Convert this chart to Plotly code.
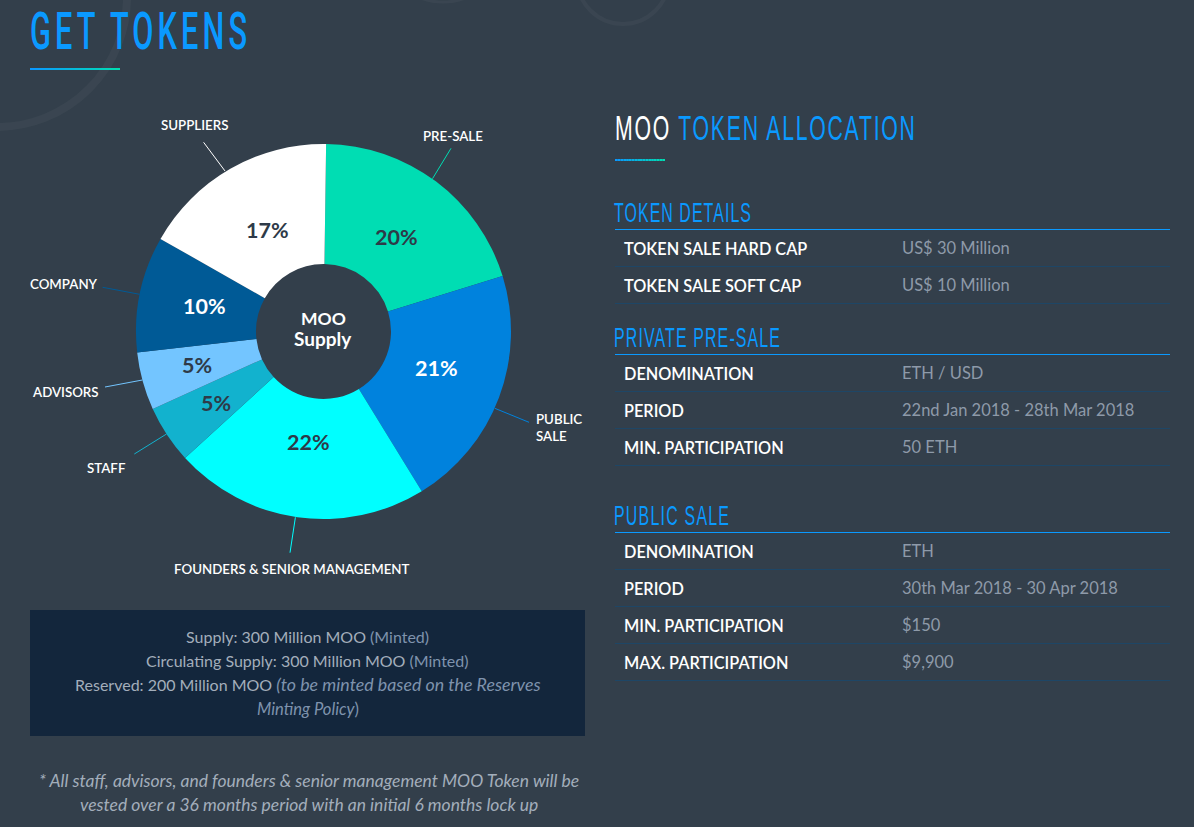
import json
import plotly.graph_objects as go

W, H = 1194, 827
BG = "#333F4B"
BLUE = "#0A99FF"
HEAD = "Liberation Sans"
BODY = "Lato"
PAD = 2.5

categories = ["PRE-SALE", "PUBLIC SALE", "FOUNDERS & SENIOR MANAGEMENT", "STAFF", "ADVISORS", "COMPANY", "SUPPLIERS"]
values = [20, 21, 22, 5, 5, 10, 17]
slice_colors = ["#00DDB3", "#0082DD", "#00FFFF", "#12B2CE", "#73C5FF", "#005A96", "#FFFFFF"]
pct_colors = ["#2E3A48", "#FFFFFF", "#2E3A48", "#2E3A48", "#2E3A48", "#FFFFFF", "#2E3A48"]
pct_xy = [(396.5, 237), (436.5, 368), (308.5, 442), (216, 403), (197, 365), (204, 306), (267.5, 230)]

outer_labels = ["PRE-SALE", "PUBLIC<br>SALE", "FOUNDERS & SENIOR MANAGEMENT", "STAFF", "ADVISORS", "COMPANY", "SUPPLIERS"]
outer_label_xy = [(453, 136), (536, 427), (291.5, 569), (106, 468), (65, 392), (64, 284), (194.5, 125)]
leaders = [(451, 148.3, 432.5, 178.7), (529, 422.3, 494.8, 408.3), (290, 552.7, 295.4, 517.3),
           (134.3, 454, 166.5, 434), (105, 387, 142.4, 380), (102.6, 287.3, 139.7, 294.3), (203.6, 142.3, 225, 171)]

sections = [
    ("TOKEN DETAILS", 212.5, 229.5, [("TOKEN SALE HARD CAP", "US$ 30 Million"), ("TOKEN SALE SOFT CAP", "US$ 10 Million")]),
    ("PRIVATE PRE-SALE", 337.5, 354.5, [("DENOMINATION", "ETH / USD"), ("PERIOD", "22nd Jan 2018 - 28th Mar 2018"), ("MIN. PARTICIPATION", "50 ETH")]),
    ("PUBLIC SALE", 515.5, 532.5, [("DENOMINATION", "ETH"), ("PERIOD", "30th Mar 2018 - 30 Apr 2018"), ("MIN. PARTICIPATION", "$150"), ("MAX. PARTICIPATION", "$9,900")]),
]

box_lines = [
    'Supply: 300 Million MOO <span style="color:#7F93AD">(Minted)</span>',
    'Circulating Supply: 300 Million MOO <span style="color:#7F93AD">(Minted)</span>',
    'Reserved: 200 Million MOO <span style="color:#7F93AD;font-size:17.8px"><i>(to be minted based on the Reserves</i></span>',
    '<span style="color:#7F93AD;font-size:16.6px"><i>Minting Policy</i>)</span>',
]
foot_lines = ["<i>* All staff, advisors, and founders &amp; senior management MOO Token will be</i>",
              "<i>vested over a 36 months period with an initial 6 months lock up</i>"]

# condensed headings: rendered width of each heading
heading_widths = {"GET TOKENS": 217, "MOO TOKEN ALLOCATION": 300, "TOKEN DETAILS": 137,
                  "PRIVATE PRE-SALE": 166, "PUBLIC SALE": 115}

shapes, ann = [], []

def text(x, y, s, size, color, font=BODY, anchor="left", weight=None):
    if anchor == "left":
        x -= PAD
    ann.append(dict(x=x, y=y, xref="x", yref="y", text=s, showarrow=False, xanchor=anchor, yanchor="middle",
                    align=anchor, font=dict(family=font, size=size, color=color, weight=weight)))

def line(x0, y0, x1, y1, color, w=1):
    shapes.append(dict(type="line", x0=x0, y0=y0, x1=x1, y1=y1, xref="x", yref="y", line=dict(color=color, width=w), layer="above"))

def grad(x0, x1, y, n=18):
    c0, c1 = (10, 153, 255), (0, 221, 179)
    for i in range(n):
        t = i / (n - 1)
        c = tuple(round(a + (b - a) * t) for a, b in zip(c0, c1))
        line(x0 + (x1 - x0) * i / n, y, x0 + (x1 - x0) * (i + 1) / n, y, "rgb(%d,%d,%d)" % c, 2)

ring = "rgba(255,255,255,0.035)"
def circle(cx, cy, r, w):
    shapes.append(dict(type="circle", x0=cx - r, y0=cy - r, x1=cx + r, y1=cy + r, xref="x", yref="y",
                       line=dict(color=ring, width=w), layer="below"))
circle(-3, -3, 130, 8)
circle(623, -22, 46, 4)
circle(443, -60, 62, 3)

shapes.append(dict(type="rect", x0=30, y0=610, x1=585, y1=736, xref="x", yref="y", fillcolor="#13263C", line_width=0, layer="below"))

text(30, 31, "GET TOKENS", 52, BLUE, "Roboto", weight=500)
grad(30, 120, 69)
text(615, 127, '<span style="color:#FFFFFF">MOO</span> TOKEN ALLOCATION', 36, BLUE, HEAD)
grad(615, 665, 160)

for title, ty, ly, rows in sections:
    text(614.5, ty, title, 27, BLUE, HEAD)
    line(615, ly, 1170, ly, BLUE, 1)
    for i, (k, v) in enumerate(rows):
        y = ly + 18.7 + 37 * i
        text(624.5, y, k, 16.3, "#FFFFFF", BODY, weight=600)
        text(902, y, v, 16.5, "#8E9AA9", BODY)
        line(615, ly + 37 * (i + 1), 1170, ly + 37 * (i + 1), "#1E4666", 1)

for (x0, y0, x1, y1), c in zip(leaders, slice_colors):
    line(x0, y0, x1, y1, c, 1)
for s, (x, y) in zip(outer_labels, outer_label_xy):
    text(x, y, s, 13.3, "#FFFFFF", BODY, anchor="left" if s.startswith("PUBLIC") else "center", weight=600)

for v, (x, y), c in zip(values, pct_xy, pct_colors):
    text(x, y, f"{v}%", 21.5, c, BODY, anchor="center", weight=700)

text(323, 318, "MOO", 17.5, "#FFFFFF", BODY, anchor="center", weight=700)
text(323, 338.5, "Supply", 19, "#FFFFFF", BODY, anchor="center", weight=700)

for s, y in zip(box_lines, [636, 660, 684, 708.5]):
    text(307.5, y, s, 16, "#A3AEBB", BODY, anchor="center")
for s, y in zip(foot_lines, [780, 804]):
    text(308.5, y, s, 17.5, "#A3AEBB", BODY, anchor="center")

pie = go.Pie(
    labels=categories, values=values, sort=False, direction="clockwise", rotation=0.8, hole=0.36,
    marker=dict(colors=slice_colors, line=dict(width=0)), textinfo="none",
    domain=dict(x=[136 / W, 511 / W], y=[1 - 519 / H, 1 - 144 / H]),
    showlegend=False, hoverinfo="label+percent",
)
fig = go.Figure(pie)
fig.update_layout(
    width=W, height=H, margin=dict(l=0, r=0, t=0, b=0), paper_bgcolor=BG, plot_bgcolor=BG,
    xaxis=dict(range=[0, W], visible=False, fixedrange=True), yaxis=dict(range=[H, 0], visible=False, fixedrange=True),
    shapes=shapes, annotations=ann,
)
fig.add_trace(go.Scatter(x=[0], y=[0], mode="markers", marker=dict(opacity=0), showlegend=False, hoverinfo="skip"))

post = """
document.body.style.margin='0';document.body.style.background='%s';
var HW=%s, SX=0.59;
function condense(){
  document.querySelectorAll('.annotation-text').forEach(function(t){
    var k=t.textContent;
    if(!(k in HW)||t.dataset.done) return;
    var x=parseFloat(t.getAttribute('x'))||0, w=t.getComputedTextLength();
    t.style.letterSpacing=((HW[k]/SX-w)/(k.length-1))+'px';
    t.setAttribute('transform','translate('+x+',0) scale('+SX+',1) translate('+(-x)+',0)');
    t.dataset.done='1';
  });
}
condense();setTimeout(condense,50);setTimeout(condense,300);
""" % (BG, json.dumps(heading_widths))
fig.write_html("out.html", post_script=post, config=dict(displayModeBar=False))
